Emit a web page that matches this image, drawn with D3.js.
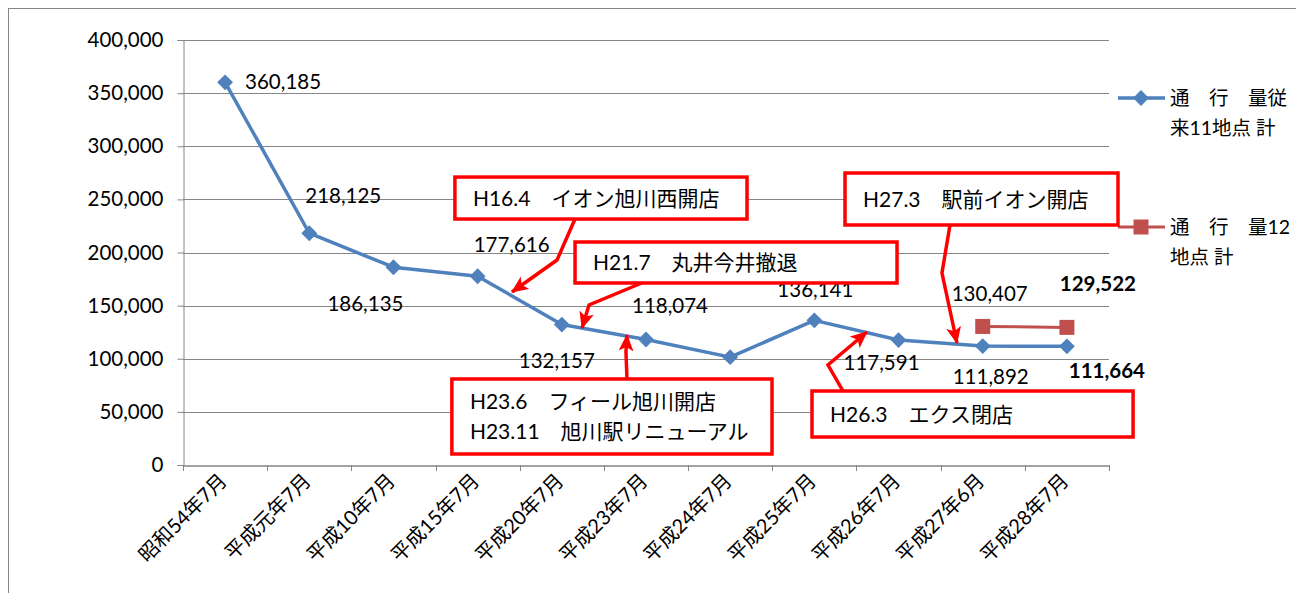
<!DOCTYPE html>
<html><head><meta charset="utf-8">
<script src="https://cdn.jsdelivr.net/npm/d3@7"></script>
<style>
body{margin:0;background:#fff;}
svg{display:block;font-family:Lato,"Noto Sans CJK JP",sans-serif;}
</style></head>
<body>
<svg id="c" width="1296" height="593"></svg>
<script>
// ---- data ----
const categories = ["昭和54年7月","平成元年7月","平成10年7月","平成15年7月","平成20年7月","平成23年7月","平成24年7月","平成25年7月","平成26年7月","平成27年6月","平成28年7月"];
const series11 = [360185,218125,186135,177616,132157,118074,101500,136141,117591,111892,111664];
const series12 = [null,null,null,null,null,null,null,null,null,130407,129522];
const seriesNames = [["通　行　量従","来11地点 計"],["通　行　量12","地点 計"]];
const yTicks = [0,50000,100000,150000,200000,250000,300000,350000,400000];
// which points are labelled (H24 has no label) and label emphasis
const labelled11 = [true,true,true,true,true,true,false,true,true,true,true];
const bold11 = [false,false,false,false,false,false,false,false,false,false,true];
const bold12 = [false,false,false,false,false,false,false,false,false,false,true];
// annotations in data space (category index, value)
const annotations = [
  {lines:["H16.4　イオン旭川西開店"], box:[2.73,6.20,271000,231500], arrow:[[4.157,231530],[3.943,192941],[3.408,162824]]},
  {lines:["H21.7　丸井今井撤退"], box:[4.157,7.982,209882,171295], arrow:[[4.950,171294],[4.323,150588],[4.240,128941]]},
  {lines:["H23.6　フィール旭川開店","H23.11　旭川駅リニューアル"], box:[2.694,6.497,80941,10353], arrow:[[4.774,80941],[4.762,106353],[4.774,122353]]},
  {lines:["H26.3　エクス閉店"], box:[6.972,10.786,69647,26353], arrow:[[7.340,69647],[7.162,94118],[7.625,125176]]},
  {lines:["H27.3　駅前イオン開店"], box:[7.364,10.607,274824,225882], arrow:[[8.611,225882],[8.516,180706],[8.694,114824]]}
];

// ---- layout ----
const L = {left:183, right:1109, top:40, bottom:465};
const labelOff11 = [[20,0,"start"],[34,-37,"middle"],[-28,37,"middle"],[34,-31,"middle"],[-5,36,"middle"],[24,-34,"middle"],[0,0,"middle"],[1,-31,"middle"],[-17,23,"middle"],[8,31,"middle"],[40,24,"middle"]];
const labelOff12 = [null,null,null,null,null,null,null,null,null,[7,-33,"middle"],[31,-44,"middle"]];
const blue = "#4F81BD", red = "#C0504D", grid = "#868686";
const numSize = 20.5, annSize = 21, catSize = 20, legSize = 19.5;

const svg = d3.select("#c");
const x = d3.scalePoint().domain(categories).range([L.left, L.right]).padding(0.5);
const xi = d3.scaleLinear().domain([0, categories.length-1]).range([x(categories[0]), x(categories[categories.length-1])]);
const y = d3.scaleLinear().domain([0,400000]).range([L.bottom, L.top]);

// outer border
svg.append("rect").attr("x",8.5).attr("y",8.5).attr("width",1400).attr("height",700)
  .attr("fill","none").attr("stroke",grid).attr("stroke-width",1);

// gridlines
svg.append("g").selectAll("line").data(yTicks.filter(d=>d>0)).join("line")
  .attr("x1",L.left).attr("x2",L.right).attr("y1",d=>Math.round(y(d))+0.5).attr("y2",d=>Math.round(y(d))+0.5)
  .attr("stroke",grid).attr("stroke-width",1);

// y axis
const yAxis = svg.append("g").attr("transform",`translate(${L.left+0.5},0)`)
  .call(d3.axisLeft(y).tickValues(yTicks).tickSize(6).tickPadding(14).tickFormat(d3.format(",")));
yAxis.select(".domain").attr("stroke",grid);
yAxis.selectAll(".tick line").attr("stroke",grid);
yAxis.selectAll("text").attr("font-size",numSize).attr("fill","#000").attr("font-family",'Lato,"Noto Sans CJK JP",sans-serif');

// x axis
const step = x.step();
const xAxis = svg.append("g").attr("transform",`translate(0,${L.bottom+0.5})`)
  .call(d3.axisBottom(x).tickSize(0).tickFormat(""));
xAxis.select(".domain").attr("stroke",grid).attr("stroke-width",1.5);
svg.append("g").selectAll("line").data(d3.range(categories.length+1)).join("line")
  .attr("x1",i=>Math.round(L.left+i*step)+0.5).attr("x2",i=>Math.round(L.left+i*step)+0.5)
  .attr("y1",L.bottom).attr("y2",L.bottom+6).attr("stroke",grid);
svg.append("g").selectAll("text").data(categories).join("text")
  .attr("transform",d=>`translate(${x(d)+3},${L.bottom+17}) rotate(-45)`)
  .attr("text-anchor","end").attr("font-size",catSize).attr("fill","#000").text(d=>d);

// lines
const line = d3.line().defined(d=>d!=null).x((d,i)=>x(categories[i])).y(d=>y(d));
svg.append("path").datum(series11).attr("d",line).attr("fill","none").attr("stroke",blue).attr("stroke-width",3.5).attr("stroke-linejoin","round");
svg.append("path").datum(series12).attr("d",line).attr("fill","none").attr("stroke",red).attr("stroke-width",3).attr("stroke-linejoin","round");

// markers
const diamond = d3.symbol().type(d3.symbolDiamond2).size(160);
svg.append("g").selectAll("path").data(series11).join("path")
  .attr("d",diamond).attr("transform",(d,i)=>`translate(${x(categories[i])},${y(d)})`).attr("fill",blue);
svg.append("g").selectAll("rect").data(series12.map((v,i)=>({v,i})).filter(d=>d.v!=null)).join("rect")
  .attr("x",d=>x(categories[d.i])-7.5).attr("y",d=>y(d.v)-7.5).attr("width",15).attr("height",15).attr("fill",red);

// data labels
const fmt = d3.format(",");
svg.append("g").selectAll("text").data(series11.map((v,i)=>({v,i})).filter(d=>labelled11[d.i])).join("text")
  .attr("x",d=>x(categories[d.i])+labelOff11[d.i][0]).attr("y",d=>y(d.v)+labelOff11[d.i][1])
  .attr("dy","0.35em").attr("text-anchor",d=>labelOff11[d.i][2])
  .attr("font-size",numSize).attr("font-weight",d=>bold11[d.i]?"bold":"normal").attr("fill","#000").text(d=>fmt(d.v));
svg.append("g").selectAll("text").data(series12.map((v,i)=>({v,i})).filter(d=>d.v!=null)).join("text")
  .attr("x",d=>x(categories[d.i])+labelOff12[d.i][0]).attr("y",d=>y(d.v)+labelOff12[d.i][1])
  .attr("dy","0.35em").attr("text-anchor",d=>labelOff12[d.i][2])
  .attr("font-size",numSize).attr("font-weight",d=>bold12[d.i]?"bold":"normal").attr("fill","#000").text(d=>fmt(d.v));

// legend
const legY = [98, 227];
const lg = svg.append("g");
[blue, red].forEach((c,k)=>{
  lg.append("line").attr("x1",1118).attr("x2",1165).attr("y1",legY[k]).attr("y2",legY[k]).attr("stroke",c).attr("stroke-width",k?3:3.5);
  if(k===0) lg.append("path").attr("d",diamond).attr("transform",`translate(1141,${legY[k]})`).attr("fill",c);
  else lg.append("rect").attr("x",1133.5).attr("y",legY[k]-7.5).attr("width",15).attr("height",15).attr("fill",c);
  seriesNames[k].forEach((t,j)=>{
    lg.append("text").attr("x",1170).attr("y",legY[k]+7+j*30).attr("font-size",legSize).attr("fill","#000").text(t);
  });
});

// annotations
svg.append("defs").append("marker").attr("id","ah").attr("viewBox","0 0 17 15")
  .attr("refX",16).attr("refY",7.5).attr("markerWidth",17).attr("markerHeight",15)
  .attr("markerUnits","userSpaceOnUse").attr("orient","auto")
  .append("path").attr("d","M0,0 L17,7.5 L0,15 L4,7.5 Z").attr("fill","#FF0000");
const ag = svg.append("g");
const al = d3.line().x(d=>xi(d[0])).y(d=>y(d[1]));
annotations.forEach(a=>{
  const [i0,i1,vt,vb] = a.box;
  const bx = xi(i0), bw = xi(i1)-xi(i0), by = y(vt), bh = y(vb)-y(vt);
  ag.append("path").attr("d",al(a.arrow)).attr("fill","none").attr("stroke","#FF0000").attr("stroke-width",3.5)
    .attr("stroke-linejoin","miter").attr("marker-end","url(#ah)");
  ag.append("rect").attr("x",bx).attr("y",by).attr("width",bw).attr("height",bh)
    .attr("fill","#fff").attr("stroke","#FF0000").attr("stroke-width",3.5);
  const n = a.lines.length;
  a.lines.forEach((t,j)=>{
    ag.append("text").attr("x",bx+18).attr("y",by+bh/2+(j-(n-1)/2)*30).attr("dy","0.38em")
      .attr("font-size",annSize).attr("fill","#000").attr("xml:space","preserve").text(t);
  });
});
</script>
</body></html>
